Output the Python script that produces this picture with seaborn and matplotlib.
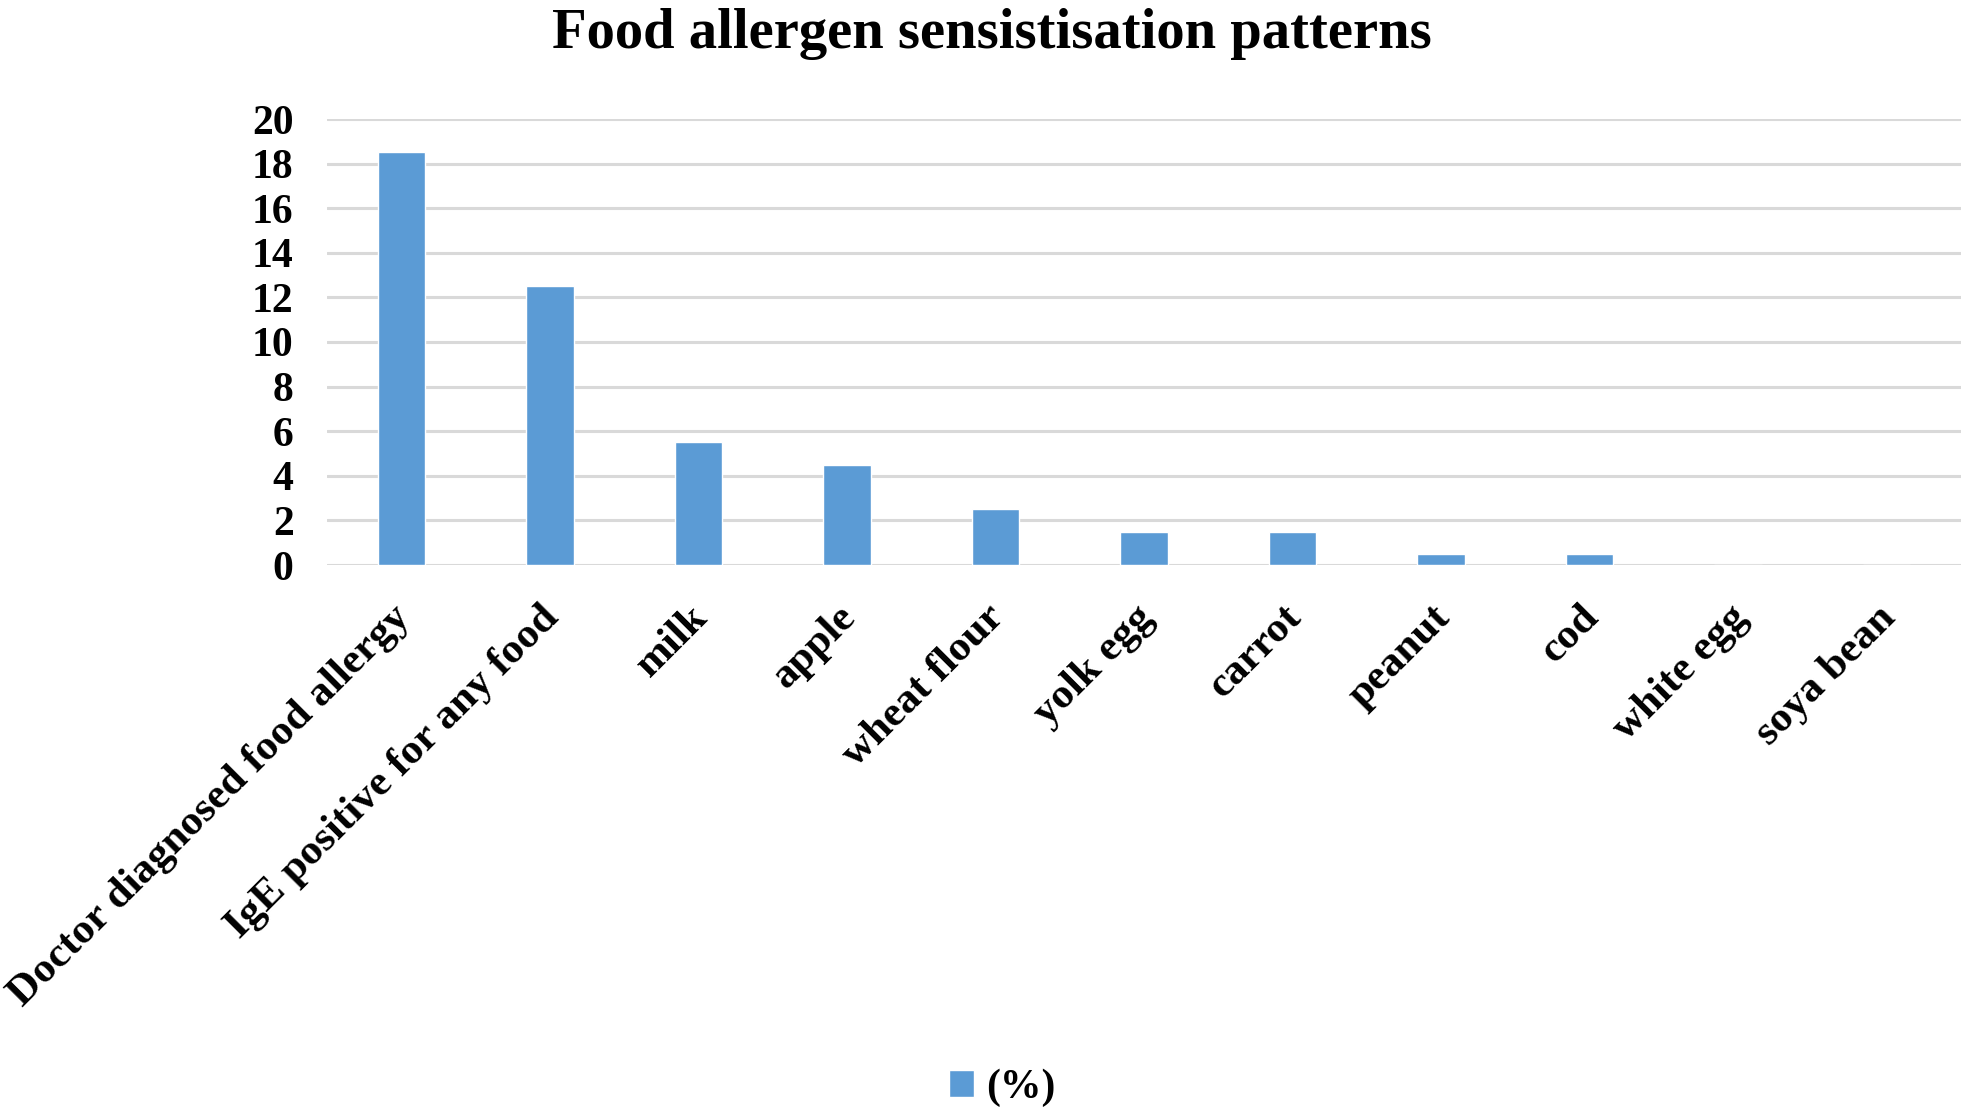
import pandas as pd
import matplotlib.pyplot as plt
import matplotlib.transforms as mtransforms
import seaborn as sns

# values (%)
foods = ['Doctor diagnosed food allergy', 'IgE positive for any food', 'milk', 'apple',
         'wheat flour', 'yolk egg', 'carrot', 'peanut', 'cod', 'white egg', 'soya bean']
percent = [18.5, 12.5, 5.5, 4.5, 2.5, 1.5, 1.5, 0.5, 0.5, 0, 0]
yticks = [0, 2, 4, 6, 8, 10, 12, 14, 16, 18, 20]

df = pd.DataFrame({'food': foods, 'pct': percent})

sns.set_style('white')
plt.rcParams['font.family'] = ['Liberation Serif', 'DejaVu Serif']
plt.rcParams['font.weight'] = 'bold'
plt.rcParams['text.color'] = 'black'
plt.rcParams['xtick.color'] = 'black'
plt.rcParams['ytick.color'] = 'black'

fig = plt.figure(figsize=(19.61, 11.16), dpi=100)
ax = fig.add_axes([327 / 1961, 1 - 565 / 1116, 1 - 327 / 1961, (565 - 119) / 1116])

sns.barplot(data=df, x='food', y='pct', color='#5b9bd5', width=0.32,
            saturation=1, label='(%)', ax=ax, zorder=3)

ax.set_ylim(0, 20)
ax.set_xlim(-0.5, len(foods) - 0.5)
ax.set_yticks(yticks)
ax.set_yticklabels([str(t) for t in yticks], fontsize=30, fontweight='bold')
ax.yaxis.grid(True, color='#d9d9d9', linewidth=2.2, zorder=0)
ax.set_axisbelow(True)
for s in ax.spines.values():
    s.set_visible(False)
ax.tick_params(axis='y', length=0, pad=24)
ax.tick_params(axis='x', length=0, pad=24)
ax.set_xticks(range(len(foods)))
ax.set_xticklabels(foods, rotation=45, ha='right', rotation_mode='anchor',
                   fontsize=31, fontweight='bold')
# nudge rotated labels a bit to the left
shift = mtransforms.ScaledTranslation(-10 / 100, 0, fig.dpi_scale_trans)
for lab in ax.get_xticklabels():
    lab.set_transform(lab.get_transform() + shift)
ax.set_xlabel('')
ax.set_ylabel('')

fig.suptitle('Food allergen sensistisation patterns', x=0.506, y=0.993,
             fontsize=40.8, fontweight='bold', va='top')

ax.legend().remove()
h, l = ax.get_legend_handles_labels()
fig.legend(h[:1], ['(%)'], loc='center', bbox_to_anchor=(0.511, 0.025), frameon=False,
           handlelength=0.6, handleheight=0.6, handletextpad=0.3,
           prop={'size': 30, 'weight': 'bold'})

fig.savefig('out.png', dpi=100)
